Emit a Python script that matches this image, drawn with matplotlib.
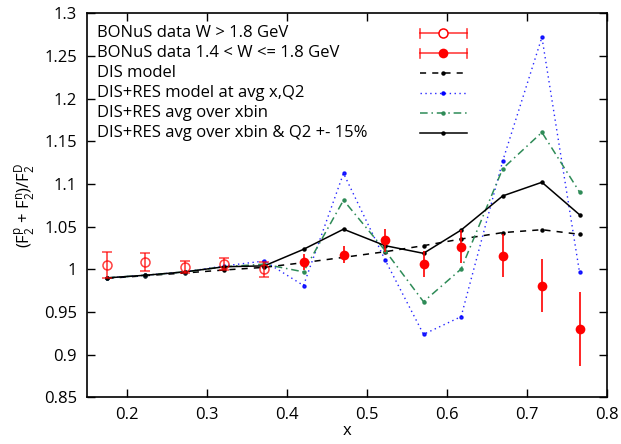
import matplotlib
matplotlib.use("Agg")
import matplotlib.pyplot as plt
from matplotlib.lines import Line2D

plt.rcParams['font.family'] = ['Open Sans', 'DejaVu Sans']
plt.rcParams['mathtext.fontset'] = 'custom'
plt.rcParams['mathtext.rm'] = 'Open Sans'
plt.rcParams['mathtext.it'] = 'Open Sans'

# bin centres in x
x = [0.176, 0.223, 0.273, 0.322, 0.372, 0.421, 0.471, 0.523, 0.571, 0.618, 0.670, 0.719, 0.766]

# BONuS data, W > 1.8 GeV (first five bins)
x_hiW = x[:5]
r_hiW = [1.005, 1.009, 1.003, 1.006, 1.000]
e_hiW = [0.015, 0.0105, 0.007, 0.007, 0.0085]

# BONuS data, 1.4 < W <= 1.8 GeV (remaining bins)
x_loW = x[5:]
r_loW = [1.008, 1.017, 1.034, 1.006, 1.0265, 1.016, 0.981, 0.930]
e_loW = [0.0094, 0.010, 0.0133, 0.0156, 0.0195, 0.0248, 0.0305, 0.043]

# model curves
dis_model = [0.9894, 0.9925, 0.9957, 0.9992, 1.0023, 1.0078, 1.014, 1.0206, 1.0277, 1.0355, 1.043, 1.0464, 1.041]
disres_avg = [0.990, 0.993, 0.997, 1.004, 1.0097, 0.981, 1.1125, 1.011, 0.9238, 0.9445, 1.127, 1.272, 0.9965]
disres_xbin = [0.990, 0.993, 0.997, 1.003, 1.006, 0.997, 1.081, 1.022, 0.962, 1.0003, 1.118, 1.1605, 1.0906]
disres_xbin_q2 = [0.990, 0.993, 0.997, 1.003, 1.004, 1.0234, 1.047, 1.0277, 1.0187, 1.046, 1.086, 1.102, 1.064]

labels = [
    "BONuS data W > 1.8 GeV",
    "BONuS data 1.4 < W <= 1.8 GeV",
    "DIS model",
    "DIS+RES model at avg x,Q2",
    "DIS+RES avg over xbin",
    "DIS+RES avg over xbin & Q2 +- 15%",
]

red = "#ff0000"
blue = "#0000ff"
green = "#2e8b57"
FS = 12

fig = plt.figure(figsize=(6.21, 4.44), dpi=100)
ax = fig.add_axes([0.1396, 0.1052, 0.8374, 0.8648])

ax.plot(x, dis_model, color="black", ls=(0, (4, 4)), lw=1.1, marker="o", ms=2.2, zorder=3)
ax.plot(x, disres_avg, color=blue, ls=(0, (1, 2.5)), lw=1.0, marker="o", ms=2.2, alpha=0.85, zorder=3)
ax.plot(x, disres_xbin, color=green, ls=(0, (5, 2.5, 1, 2.5)), lw=1.1, marker="o", ms=2.2, zorder=3)
ax.plot(x, disres_xbin_q2, color="black", ls="-", lw=1.1, marker="o", ms=2.2, zorder=3)

ax.errorbar(x_hiW, r_hiW, yerr=e_hiW, fmt="o", mfc="none", mec=red, ms=6.5, mew=1.1,
            ecolor=red, elinewidth=1.2, capsize=3.5, capthick=1.2, alpha=0.75, zorder=4)
ax.errorbar(x_loW, r_loW, yerr=e_loW, fmt="o", mfc=red, mec=red, ms=7, mew=0,
            ecolor=red, elinewidth=1.2, capsize=3.5, capthick=1.2, zorder=4)

ax.set_xlim(0.15, 0.8)
ax.set_ylim(0.85, 1.3)
ax.set_xticks([0.2, 0.3, 0.4, 0.5, 0.6, 0.7, 0.8])
ax.set_xticklabels(["0.2", "0.3", "0.4", "0.5", "0.6", "0.7", "0.8"])
ax.set_yticks([0.85, 0.9, 0.95, 1.0, 1.05, 1.1, 1.15, 1.2, 1.25, 1.3])
ax.set_yticklabels(["0.85", "0.9", "0.95", "1", "1.05", "1.1", "1.15", "1.2", "1.25", "1.3"])
ax.tick_params(direction="in", length=6, width=1, top=True, right=True, labelsize=FS, pad=7)
for s in ax.spines.values():
    s.set_linewidth(1.2)

ax.set_xlabel("x", fontsize=FS, labelpad=0)
ax.set_ylabel(r"(F$_2^\mathrm{p}$ + F$_2^\mathrm{n}$)/F$_2^\mathrm{D}$", fontsize=FS, labelpad=5)

# key: text on the left, samples on the right
T = ax.transAxes
rows_y = [0.9479, 0.8958, 0.8438, 0.7917, 0.7396, 0.6875]
sx0, sx1, sxm = 0.6410, 0.7308, 0.6856
for lab, yy in zip(labels, rows_y):
    ax.text(0.0198, yy, lab, transform=T, fontsize=FS, va="center", ha="left")

for k, filled in ((0, False), (1, True)):
    yy = rows_y[k]
    ax.add_line(Line2D([sx0, sx1], [yy] * 2, transform=T, color=red, lw=1.2, alpha=0.75))
    for xx in (sx0, sx1):
        ax.add_line(Line2D([xx, xx], [yy - 0.011, yy + 0.011], transform=T, color=red, lw=1.2, alpha=0.75))
    if filled:
        ax.add_line(Line2D([sxm], [yy], transform=T, marker="o", mfc=red, mec=red, ms=7, mew=0, ls="none"))
    else:
        ax.add_line(Line2D([sxm], [yy], transform=T, marker="o", mfc="white", mec=red, ms=6.5, mew=1.1, ls="none"))

samples = [
    (2, "black", (0, (4, 4)), 1.1, 1.0),
    (3, blue, (0, (1, 2.5)), 1.0, 0.85),
    (4, green, (0, (5, 2.5, 1, 2.5)), 1.1, 1.0),
    (5, "black", "-", 1.1, 1.0),
]
for k, c, ls, lw, a in samples:
    yy = rows_y[k]
    ax.add_line(Line2D([sx0, sx1], [yy] * 2, transform=T, color=c, ls=ls, lw=lw, alpha=a))
    ax.add_line(Line2D([sxm], [yy], transform=T, color=c, marker="o", ms=2.2, ls="none"))

fig.savefig("out.png", dpi=100)
